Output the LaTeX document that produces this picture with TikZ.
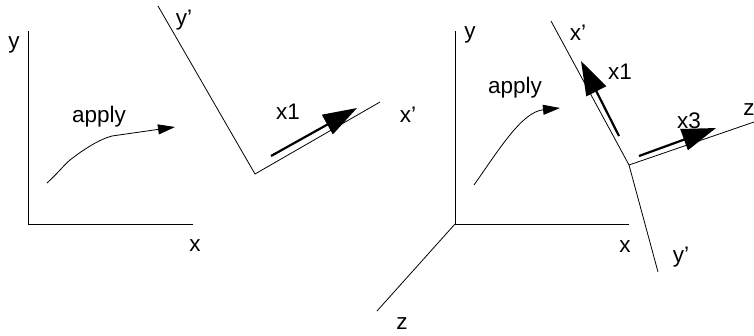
\documentclass[tikz,border=0pt]{standalone}
\usepackage{fontspec}
\setmainfont{Liberation Sans}
\usetikzlibrary{arrows.meta,calc}
\definecolor{clrA}{RGB}{0,0,0}

\begin{document}
\begin{tikzpicture}[x=1pt,y=-1pt,
   lbl/.style={font=\fontsize{22.5}{24}\selectfont,text=clrA,inner sep=0pt},
   axis/.style={draw=clrA,line width=1pt},
   thin axis/.style={draw=clrA,line width=0.8pt},
   ar/.style={-{Stealth[length=17pt,width=10pt,inset=0pt]},draw=clrA,line width=0.8pt},
   bigar/.style={-{Stealth[length=34pt,width=22pt,inset=0pt]},draw=clrA,line width=2.2pt}]

  \useasboundingbox (0,0) rectangle (754,335);

  \coordinate (oL) at (28,224);
  \coordinate (yL) at (28,31);
  \coordinate (xL) at (193,224);
  \coordinate (opL) at (255,174);
  \coordinate (ypL) at (158,6);
  \coordinate (xpL) at (380,102);
  \coordinate (b1L) at (271,156);
  \coordinate (e1L) at (357,108);
  \coordinate (c0L) at (47,183);
  \coordinate (c1L) at (175,127);

  \coordinate (oR) at (455,224);
  \coordinate (yR) at (455,31);
  \coordinate (xR) at (629,224);
  \coordinate (zR) at (377,311);
  \coordinate (opR) at (629,165);
  \coordinate (xpR) at (551,21);
  \coordinate (ypR) at (658,272);
  \coordinate (zpR) at (754,122);
  \coordinate (b1R) at (619,136);
  \coordinate (e1R) at (581,61);
  \coordinate (b3R) at (639,156);
  \coordinate (e3R) at (716,128);
  \coordinate (c0R) at (474,185);
  \coordinate (c1R) at (560,108);

  \draw[axis] (yL) -- (oL) -- (xL);
  \draw[thin axis] (ypL) -- (opL) -- (xpL);
  \draw[bigar] (b1L) -- (e1L);
  \draw[ar] (c0L) .. controls (58,173) and (64,165) .. (70,160)
     .. controls (84,149) and (100,139) .. (112,136) -- (c1L);

  \draw[axis] (yR) -- (oR) -- (xR);
  \draw[thin axis] (oR) -- (zR);
  \draw[thin axis] (xpR) -- (opR) -- (ypR);
  \draw[thin axis] (opR) -- (zpR);
  \draw[bigar] (b1R) -- (e1R);
  \draw[bigar] (b3R) -- (e3R);
  \draw[ar] (c0R) .. controls (500,148) and (522,112) .. (c1R);

  \node[lbl] (nyL) at (14,45) {y};
  \node[lbl] (nxL) at (195,246) {x};
  \node[lbl] (napL) at (99,117) {apply};
  \node[lbl] (nypL) at (184,20) {y'};
  \node[lbl] (nx1L) at (288,112) {x1};
  \node[lbl] (nxpL) at (408,115) {x'};

  \node[lbl] (nyR) at (470,35) {y};
  \node[lbl] (nxR) at (625,247) {x};
  \node[lbl] (nzR) at (402,324) {z};
  \node[lbl] (napR) at (515,88) {apply};
  \node[lbl] (nxpR) at (578,33) {x'};
  \node[lbl] (nx1R) at (620,72) {x1};
  \node[lbl] (nx3R) at (689,121) {x3};
  \node[lbl] (nypR) at (681,257) {y'};
  \node[lbl] (nzpR) at (749,110) {z};
\end{tikzpicture}
\end{document}
